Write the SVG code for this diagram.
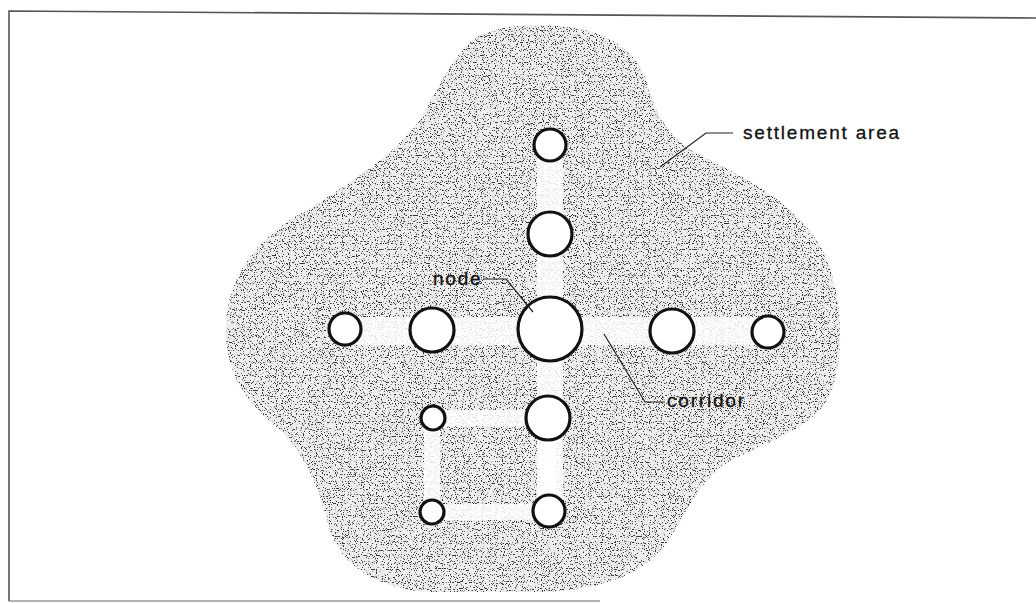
<svg xmlns="http://www.w3.org/2000/svg" width="1036" height="603" viewBox="0 0 1036 603">
<style>
.node{fill:#fff;stroke:#111;stroke-width:3.2}
.corr{stroke:#fff;stroke-opacity:0.85;stroke-linecap:butt;fill:none}
.lead{fill:none;stroke:#222;stroke-width:1.2}
.lbl{font-family:"Liberation Sans",Arial,sans-serif;font-size:19px;letter-spacing:1.8px;fill:#111;stroke:#111;stroke-width:0.3}
.frame{fill:none;stroke:#555;stroke-width:1.6}
</style>
<defs>
<filter id="stip" x="0" y="0" width="100%" height="100%" color-interpolation-filters="sRGB">
<feTurbulence type="fractalNoise" baseFrequency="0.85" numOctaves="1" seed="7" result="n"/>
<feColorMatrix in="n" type="matrix" values="0 0 0 0 0.2  0 0 0 0 0.2  0 0 0 0 0.2  -14 0 0 0 5.9" result="d"/>
<feComposite in="d" in2="SourceGraphic" operator="in"/>
</filter>
</defs>
<rect width="1036" height="603" fill="#fff"/>
<g id="frame">
<path class="frame" d="M9 601 L9 11 L1036 18"/>
<path class="frame" d="M9 601 L600 601" stroke-opacity="0.6"/>
</g>
<g id="settlement-area">
<path id="blob-base" fill="#eeeeee" d="M540 25 C590 25 632 40 646 80 C656 115 668 140 705 158 C750 180 800 205 825 255 C845 300 845 370 826 402 C805 432 760 445 728 462 C700 480 688 510 670 538 C650 570 610 590 540 592 L430 592 C380 590 340 565 330 530 C320 495 310 460 280 430 C250 405 228 380 226 335 C224 290 245 250 290 220 C340 190 390 160 420 120 C440 85 455 50 480 35 C500 27 520 25 540 25 Z"/>
<use href="#blob-base" fill="#000" filter="url(#stip)"/>
</g>
<g id="connectors">
<path class="corr" stroke-width="28" d="M345 331 L768 331"/>
<path class="corr" stroke-width="26" d="M550 145 L550 512"/>
<path class="corr" stroke-width="16" d="M432 418 L548 418 M432 418 L432 512 M432 512 L548 512 M548 418 L548 512"/>
</g>
<g id="node-top"><circle class="node" cx="550" cy="145" r="16"/></g>
<g id="node-upper"><circle class="node" cx="550" cy="234" r="22"/></g>
<g id="node-center"><circle class="node" cx="550" cy="329" r="32"/></g>
<g id="node-left"><circle class="node" cx="432" cy="330" r="22"/></g>
<g id="node-far-left"><circle class="node" cx="345" cy="329" r="16"/></g>
<g id="node-right"><circle class="node" cx="672" cy="331" r="22"/></g>
<g id="node-far-right"><circle class="node" cx="768" cy="332" r="16"/></g>
<g id="node-lower"><circle class="node" cx="548" cy="418" r="22"/></g>
<g id="node-small-left"><circle class="node" cx="433" cy="418" r="12"/></g>
<g id="node-bottom-left"><circle class="node" cx="432" cy="512" r="12"/></g>
<g id="node-bottom"><circle class="node" cx="549" cy="511" r="16"/></g>
<g id="labels">
<path class="lead" d="M483 279 L506 279 L533 312"/>
<text class="lbl" x="433" y="285">node</text>
<path class="lead" d="M604 334 L645 402 L665 402"/>
<text class="lbl" x="667" y="407">corridor</text>
<path class="lead" d="M660 167 L706 133 L733 133"/>
<text class="lbl" x="743" y="139">settlement area</text>
</g>
</svg>
